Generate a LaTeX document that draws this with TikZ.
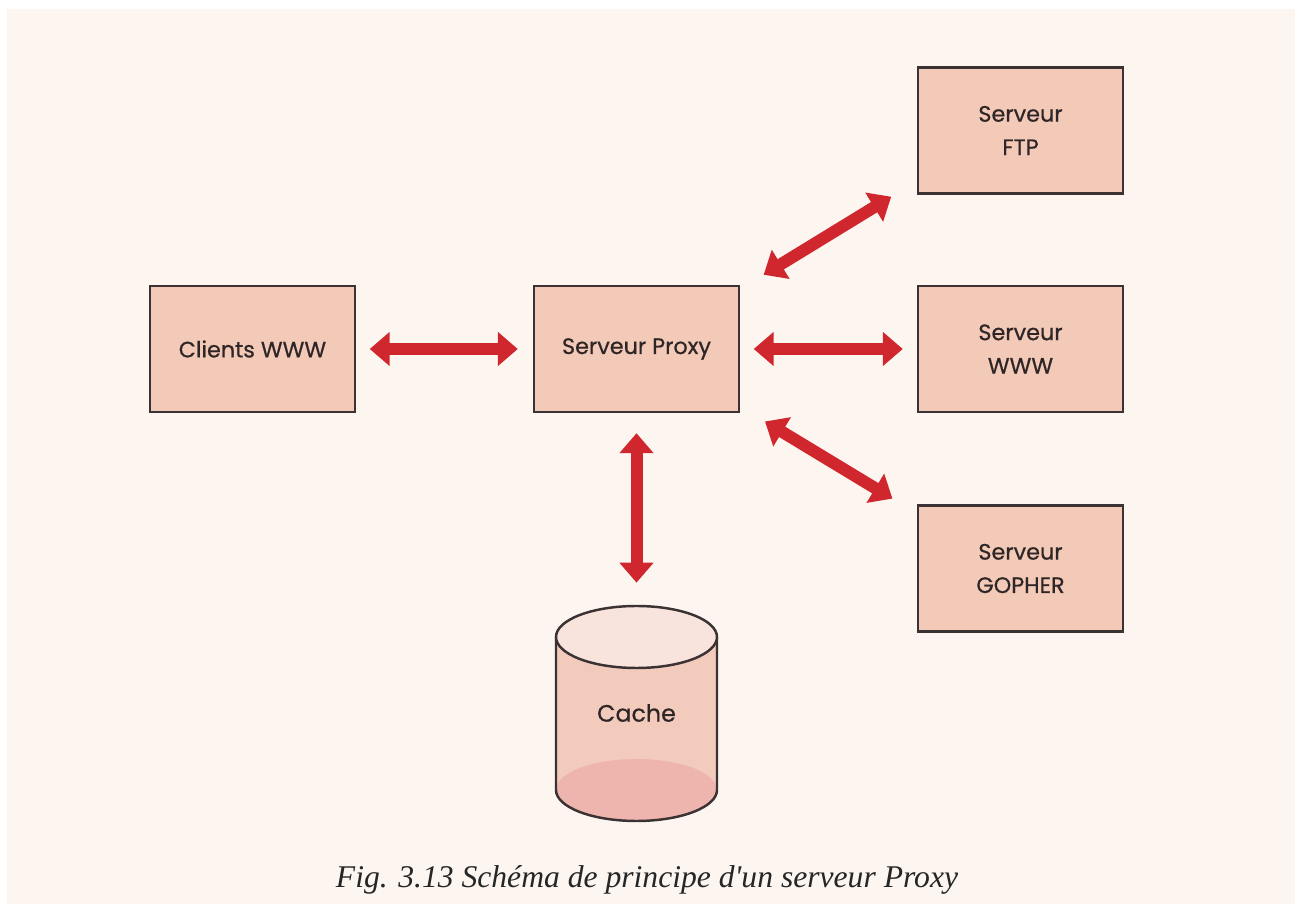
\documentclass[tikz,border=0pt]{standalone}
\usepackage{fontspec}
\setmainfont{Liberation Serif}
\newfontfamily\boxfont[FakeBold=0.6]{Poppins}
\usetikzlibrary{arrows.meta}

\definecolor{paper}{HTML}{FDF6F0}
\definecolor{boxfill}{HTML}{F3C9B8}
\definecolor{edge}{HTML}{3B3333}
\definecolor{ink}{HTML}{2E2626}
\definecolor{arrowred}{HTML}{D0262D}
\definecolor{cachetop}{HTML}{F9E3DD}
\definecolor{cachebody}{HTML}{F3CBBD}
\definecolor{cachelow}{HTML}{EEB5AE}

\begin{document}
\begin{tikzpicture}[x=0.02cm,y=0.02cm,
        srvbox/.style={draw=edge, line width=1.4pt, fill=boxfill, text=ink,
                minimum width=4.1cm, minimum height=2.52cm, align=center,
                font=\boxfont\fontsize{12.7}{19}\selectfont},
        link/.style={draw=arrowred, line width=0.24cm, <->,
                >={Triangle[width=0.66cm,length=0.4cm]}}]
                \useasboundingbox (0,0) rectangle (1295,906);
                \fill[paper] (7,2) rectangle (1295,897); %page

                \node[srvbox] (clients) at (252.5,557) {Clients WWW}; %clients
                \node[srvbox] (proxy) at (636.5,557) {Serveur Proxy}; %proxy
                \node[srvbox] (ftp) at (1020.5,775.5) {Serveur\\FTP}; %ftp
                \node[srvbox] (www) at (1020.5,557) {Serveur\\WWW}; %www
                \node[srvbox] (gopher) at (1020.5,337.5) {Serveur\\GOPHER}; %gopher

                \fill[cachebody] (556,269) -- (556,116) arc[start angle=180, end angle=360, x radius=80.5, y radius=31] -- (717,269) -- cycle;
                \fill[cachelow] (636.5,116) ellipse [x radius=80.5, y radius=31];
                \draw[edge, line width=1.4pt] (556,269) -- (556,116) arc[start angle=180, end angle=360, x radius=80.5, y radius=31] -- (717,269);
                \draw[edge, line width=1.4pt, fill=cachetop] (636.5,269) ellipse [x radius=80.5, y radius=31];
                \node[minimum width=3.22cm, minimum height=4.32cm, text=ink,
                        font=\boxfont\fontsize{13.5}{19}\selectfont] (cache) at (636.5,193) {Cache}; %cache

                \draw[link, shorten <=0.27cm, shorten >=0.3cm] (clients.east) -- (proxy.west);
                \draw[link, shorten <=0.27cm, shorten >=0.28cm] (proxy.east) -- (www.west);
                \draw[link, shorten <=0.55cm, shorten >=0.6cm] (proxy.30) -- (ftp.206);
                \draw[link, shorten <=0.58cm, shorten >=0.57cm] (proxy.-29) -- (gopher.152);
                \draw[link, shorten <=0.4cm, shorten >=0.44cm] (proxy.south) -- (cache.north);

                \node[font=\itshape\fontsize{18}{22}\selectfont, text=black!85] (caption) at (647,26) {Fig. 3.13 Schéma de principe d\textquotesingle un serveur Proxy};
            \end{tikzpicture}
\end{document}
